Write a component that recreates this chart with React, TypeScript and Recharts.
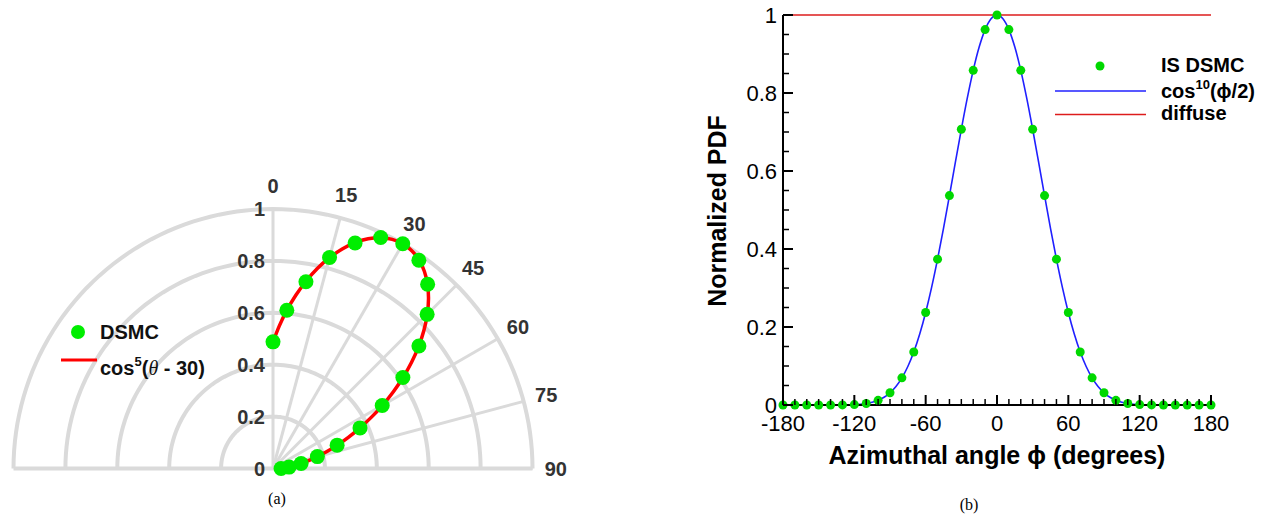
import React from "react"
import { ComposedChart, Line, Scatter, XAxis, YAxis } from "recharts"

// (a) polar lobe: polar angle theta (deg from the surface normal) and normalized radius
const thetaDsmc = [0, 5, 10, 15, 20, 25, 30, 35, 40, 45, 50, 55, 60, 65, 70, 75, 80, 85, 90]
const rDsmc = [0.488, 0.612, 0.731, 0.842, 0.925, 0.982, 1.0, 0.98, 0.927, 0.84, 0.734, 0.611, 0.486, 0.37, 0.263, 0.177, 0.11, 0.062, 0.031]

const thetaFit = [
  0, 2.5, 5, 7.5, 10, 12.5, 15, 17.5, 20, 22.5, 25, 27.5, 30, 32.5, 35, 37.5, 40, 42.5, 45,
  47.5, 50, 52.5, 55, 57.5, 60, 62.5, 65, 67.5, 70, 72.5, 75, 77.5, 80, 82.5, 85, 87.5, 90,
]
const rFit = [
  0.4871, 0.5491, 0.6115, 0.6731, 0.7327, 0.789, 0.8408, 0.887, 0.9263, 0.958, 0.9811, 0.9953, 1,
  0.9953, 0.9811, 0.958, 0.9263, 0.887, 0.8408, 0.789, 0.7327, 0.6731, 0.6115, 0.5491, 0.4871,
  0.4267, 0.3688, 0.3143, 0.2638, 0.2179, 0.1768, 0.1407, 0.1098, 0.0836, 0.0621, 0.0448, 0.0313,
]

const angleTicks = [0, 15, 30, 45, 60, 75, 90]
const radialTicks = [0, 0.2, 0.4, 0.6, 0.8, 1]

// (b) azimuthal distribution
const phiDsmc = [
  -180, -170, -160, -150, -140, -130, -120, -110, -100, -90, -80, -70, -60, -50, -40, -30, -20, -10, 0,
  10, 20, 30, 40, 50, 60, 70, 80, 90, 100, 110, 120, 130, 140, 150, 160, 170, 180,
]
const pdfDsmc = [
  0, 0, 0, 0, 0, 0.0002, 0.001, 0.0039, 0.012, 0.0313, 0.0696, 0.136, 0.2373, 0.3739, 0.5369, 0.707, 0.8581, 0.9626, 1,
  0.9626, 0.8581, 0.707, 0.5369, 0.3739, 0.2373, 0.136, 0.0696, 0.0313, 0.012, 0.0039, 0.001, 0.0002, 0, 0, 0, 0, 0,
]

const phiFit = [
  -180, -175, -170, -165, -160, -155, -150, -145, -140, -135, -130, -125, -120, -115, -110, -105, -100, -95, -90,
  -85, -80, -75, -70, -65, -60, -55, -50, -45, -40, -35, -30, -25, -20, -15, -10, -5, 0,
  5, 10, 15, 20, 25, 30, 35, 40, 45, 50, 55, 60, 65, 70, 75, 80, 85, 90,
  95, 100, 105, 110, 115, 120, 125, 130, 135, 140, 145, 150, 155, 160, 165, 170, 175, 180,
]
const pdfFit = [
  0, 0, 0, 0, 0, 0, 0, 0, 0, 0.0001, 0.0002, 0.0004, 0.001, 0.002, 0.0039, 0.007, 0.012, 0.0198, 0.0313,
  0.0475, 0.0696, 0.0988, 0.136, 0.1821, 0.2373, 0.3015, 0.3739, 0.4531, 0.5369, 0.6226, 0.707, 0.7867, 0.8581, 0.9177, 0.9626, 0.9905, 1,
  0.9905, 0.9626, 0.9177, 0.8581, 0.7867, 0.707, 0.6226, 0.5369, 0.4531, 0.3739, 0.3015, 0.2373, 0.1821, 0.136, 0.0988, 0.0696, 0.0475, 0.0313,
  0.0198, 0.012, 0.007, 0.0039, 0.002, 0.001, 0.0004, 0.0002, 0.0001, 0, 0, 0, 0, 0, 0, 0, 0, 0,
]

const phiDiffuse = [-180, 180]
const pdfDiffuse = [1, 1]

const phiTicks = [
  -180, -170, -160, -150, -140, -130, -120, -110, -100, -90, -80, -70, -60, -50, -40, -30, -20, -10, 0,
  10, 20, 30, 40, 50, 60, 70, 80, 90, 100, 110, 120, 130, 140, 150, 160, 170, 180,
]
const pdfTicks = [0, 0.05, 0.1, 0.15, 0.2, 0.25, 0.3, 0.35, 0.4, 0.45, 0.5, 0.55, 0.6, 0.65, 0.7, 0.75, 0.8, 0.85, 0.9, 0.95, 1]

const SANS = "'Liberation Sans', Arial, Helvetica, sans-serif"
const SERIF = "'Liberation Serif', 'Times New Roman', serif"
const GRID = "#dadada"
const LABEL = "#333"

// polar panel geometry (px)
const PA = { left: 0, top: 150, width: 600, height: 340, cx: 273, cy: 318.5, R: 259.5 }
const polarX: [number, number] = [-PA.cx / PA.R, (PA.width - PA.cx) / PA.R]
const polarY: [number, number] = [-(PA.height - PA.cy) / PA.R, PA.cy / PA.R]

const toXY = (deg: number, r: number) => ({
  x: r * Math.sin((deg * Math.PI) / 180),
  y: r * Math.cos((deg * Math.PI) / 180),
})

const dsmcPoints = thetaDsmc.map((t, i) => toXY(t, rDsmc[i]))
const fitPoints = thetaFit.map((t, i) => toXY(t, rFit[i]))

// grid rings are half circles, spokes only on the right quadrant
const ringSteps = Array.from({ length: 91 }, (_, i) => -90 + i * 2)
const rings = radialTicks.filter((r) => r > 0).map((r) => ringSteps.map((a) => toXY(a, r)))
const spokes = angleTicks.map((a) => [toXY(a, 0), toXY(a, 1)])
const baseline = [toXY(-90, 1), toXY(90, 1)]

const angleLabels = angleTicks.map((a) => ({ ...toXY(a, 1.09), label: String(a) }))
const radialLabels = radialTicks.map((r) => ({ x: 0, y: r, label: String(r) }))

const diffuseData = phiDiffuse.map((phi, i) => ({ phi, v: pdfDiffuse[i] }))
const fitData = phiFit.map((phi, i) => ({ phi, v: pdfFit[i] }))
const dsmcData = phiDsmc.map((phi, i) => ({ phi, v: pdfDsmc[i] }))

function PhiTick(props: any) {
  const { x, y, payload } = props
  const major = payload.value % 60 === 0
  return (
    <g>
      <line x1={x} x2={x} y1={y} y2={y - (major ? 10 : 6)} stroke="#000" strokeWidth={major ? 2 : 1.5} />
      {major && (
        <text x={x} y={y + 26} textAnchor="middle" fontFamily={SANS} fontSize={22} fill="#000">
          {payload.value}
        </text>
      )}
    </g>
  )
}

function PdfTick(props: any) {
  const { x, y, payload } = props
  const v = payload.value
  const major = Math.abs(v * 5 - Math.round(v * 5)) < 1e-6
  return (
    <g>
      <line x1={x} x2={x + (major ? 10 : 6)} y1={y} y2={y} stroke="#000" strokeWidth={major ? 2 : 1.5} />
      {major && (
        <text x={x - 6} y={y + 8} textAnchor="end" fontFamily={SANS} fontSize={22} fill="#000">
          {v}
        </text>
      )}
    </g>
  )
}

function PolarPanel() {
  return (
    <div style={{ position: "absolute", left: PA.left, top: PA.top }}>
      <ComposedChart width={PA.width} height={PA.height} margin={{ top: 0, right: 0, bottom: 0, left: 0 }}>
        <XAxis type="number" dataKey="x" domain={polarX} allowDataOverflow hide />
        <YAxis type="number" dataKey="y" domain={polarY} allowDataOverflow hide />
        {rings.map((ring, i) => (
          <Line key={`ring-${i}`} data={ring} dataKey="y" type="linear" stroke={GRID} strokeWidth={4}
            dot={false} activeDot={false} isAnimationActive={false} />
        ))}
        <Line data={baseline} dataKey="y" type="linear" stroke={GRID} strokeWidth={4}
          dot={false} activeDot={false} isAnimationActive={false} />
        {spokes.map((s, i) => (
          <Line key={`spoke-${i}`} data={s} dataKey="y" type="linear" stroke={GRID} strokeWidth={3}
            dot={false} activeDot={false} isAnimationActive={false} />
        ))}
        <Scatter data={dsmcPoints} isAnimationActive={false}
          shape={(p: any) => <circle cx={p.cx} cy={p.cy} r={7.5} fill="#00ee00" />} />
        <Line data={fitPoints} dataKey="y" type="natural" stroke="#ff0000" strokeWidth={3.5}
          dot={false} activeDot={false} isAnimationActive={false} />
        <Scatter data={angleLabels} isAnimationActive={false}
          shape={(p: any) => (
            <text x={p.cx} y={p.cy + 7} textAnchor="middle" fontFamily={SANS} fontWeight={700} fontSize={20} fill={LABEL}>
              {p.payload.label}
            </text>
          )} />
        <Scatter data={radialLabels} isAnimationActive={false}
          shape={(p: any) => (
            <text x={p.cx - 8} y={p.cy + 7} textAnchor="end" fontFamily={SANS} fontWeight={700} fontSize={20} fill={LABEL}>
              {p.payload.label}
            </text>
          )} />
      </ComposedChart>
    </div>
  )
}

function PdfPanel() {
  return (
    <div style={{ position: "absolute", left: 690, top: 0 }}>
      <ComposedChart width={571} height={520} margin={{ top: 15, right: 50, bottom: 85, left: 33 }}>
        <XAxis type="number" dataKey="phi" domain={[-180, 180]} ticks={phiTicks} interval={0} height={30}
          tickSize={0} tickMargin={0} tickLine={false} axisLine={{ stroke: "#000", strokeWidth: 2 }}
          tick={(p: any) => <PhiTick {...p} />} />
        <YAxis type="number" dataKey="v" domain={[0, 1]} ticks={pdfTicks} interval={0} width={60}
          tickSize={0} tickMargin={0} tickLine={false} axisLine={{ stroke: "#000", strokeWidth: 2 }}
          tick={(p: any) => <PdfTick {...p} />} />
        <Scatter data={dsmcData} isAnimationActive={false}
          shape={(p: any) => <circle cx={p.cx} cy={p.cy} r={4.5} fill="#00d800" />} />
        <Line data={fitData} dataKey="v" type="monotone" stroke="#2020ff" strokeWidth={1.6}
          dot={false} activeDot={false} isAnimationActive={false} />
        <Line data={diffuseData} dataKey="v" type="linear" stroke="#dd1c1c" strokeWidth={1.6}
          dot={false} activeDot={false} isAnimationActive={false} />
      </ComposedChart>
    </div>
  )
}

function Annotations() {
  const bold = { fontFamily: SANS, fontWeight: 700 }
  return (
    <svg width={1261} height={520} style={{ position: "absolute", left: 0, top: 0, pointerEvents: "none" }}>
      {/* legend (a) */}
      <circle cx={78} cy={332} r={7} fill="#00ee00" />
      <text x={100} y={339} fontSize={20} fill="#111" {...bold}>DSMC</text>
      <line x1={61} x2={97} y1={360} y2={360} stroke="#ff0000" strokeWidth={3} />
      <text x={100} y={375} fontSize={20} fill="#111" {...bold}>
        cos<tspan fontSize={13} dy={-9}>5</tspan>
        <tspan dy={9}>(</tspan>
        <tspan fontFamily={SERIF} fontStyle="italic" fontWeight={400}>θ</tspan>
        <tspan> - 30)</tspan>
      </text>

      {/* legend (b) */}
      <circle cx={1100} cy={66} r={4.5} fill="#00d800" />
      <text x={1161} y={72} fontSize={20} fill="#000" {...bold}>IS DSMC</text>
      <line x1={1055} x2={1146} y1={91} y2={91} stroke="#2020ff" strokeWidth={1.6} />
      <text x={1161} y={98} fontSize={20} fill="#000" {...bold}>
        cos<tspan fontSize={13} dy={-9}>10</tspan>
        <tspan dy={9}>(ϕ/2)</tspan>
      </text>
      <line x1={1055} x2={1146} y1={114.5} y2={114.5} stroke="#dd1c1c" strokeWidth={1.6} />
      <text x={1161} y={120} fontSize={20} fill="#000" {...bold}>diffuse</text>

      {/* axis titles (b) */}
      <text transform="translate(717,211) rotate(-90)" y={9} textAnchor="middle" fontSize={25} fill="#000" {...bold}>
        Normalized PDF
      </text>
      <text x={997} y={464} textAnchor="middle" fontSize={25} fill="#000" {...bold}>
        Azimuthal angle ϕ (degrees)
      </text>

      {/* captions */}
      <text x={277} y={504} textAnchor="middle" fontFamily={SERIF} fontSize={16} fill="#000">(a)</text>
      <text x={969} y={510} textAnchor="middle" fontFamily={SERIF} fontSize={16} fill="#000">(b)</text>
    </svg>
  )
}

export default function App() {
  return (
    <div style={{ position: "absolute", left: 0, top: 0, width: 1261, height: 520, background: "#fff" }}>
      <PolarPanel />
      <PdfPanel />
      <Annotations />
    </div>
  )
}
